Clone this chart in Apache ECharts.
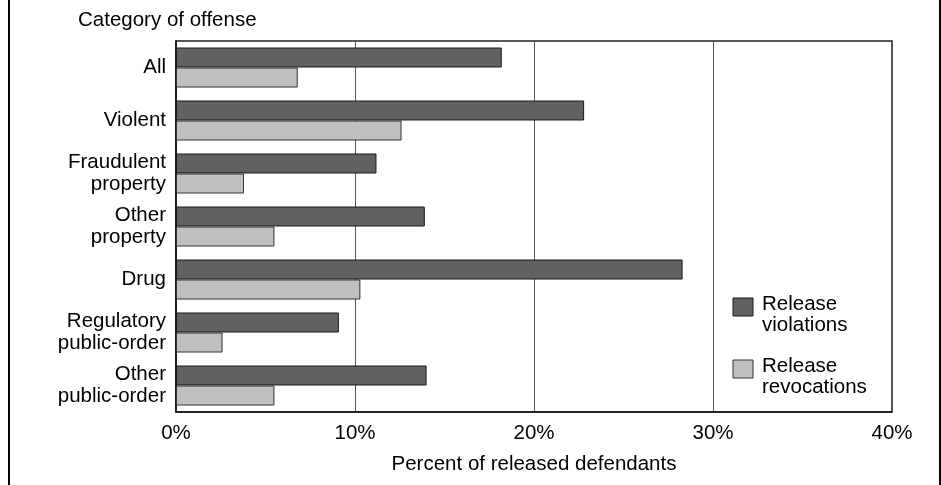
<!DOCTYPE html>
<html>
<head>
<meta charset="utf-8">
<script src="https://cdn.jsdelivr.net/npm/echarts@6/dist/echarts.min.js"></script>
<style>
html,body{margin:0;padding:0;background:#fff;}
#chart{width:941px;height:485px;}
</style>
</head>
<body>
<div id="chart"></div>
<script>
const categories = ["All", "Violent", "Fraudulent\nproperty", "Other\nproperty", "Drug", "Regulatory\npublic-order", "Other\npublic-order"];
const seriesNames = ["Release\nviolations", "Release\nrevocations"];
const violations = [18.2, 22.8, 11.2, 13.9, 28.3, 9.1, 14.0];
const revocations = [6.8, 12.6, 3.8, 5.5, 10.3, 2.6, 5.5];
const xTicks = [0, 10, 20, 30, 40];
const yTitle = "Category of offense";
const xTitle = "Percent of released defendants";

const FONT = "'Liberation Sans', Arial, Helvetica, sans-serif";
const FS = 20.5;
const COLORS = ['#616161', '#c0c0c0'];
const BORDERS = ['#1a1a1a', '#333'];
const chart = echarts.init(document.getElementById('chart'), null, {renderer: 'canvas'});

function legendItem(i, top) {
  return [
    {type: 'rect', shape: {x: 733, y: top, width: 20, height: 18},
     style: {fill: COLORS[i], stroke: BORDERS[i], lineWidth: 1}},
    {type: 'text', x: 762, y: top - 4.5,
     style: {text: seriesNames[i], font: FS + 'px ' + FONT, fill: '#000', lineHeight: 21, verticalAlign: 'top'}}
  ];
}

chart.setOption({
  animation: false,
  backgroundColor: '#fff',
  textStyle: {fontFamily: FONT},
  grid: {left: 176, right: 49, top: 41, bottom: 73, show: true, borderColor: '#222', borderWidth: 1.5, backgroundColor: 'transparent'},
  graphic: [
    {type: 'rect', shape: {x: 8, y: -5, width: 2, height: 500}, style: {fill: '#000'}},
    {type: 'rect', shape: {x: 939, y: -5, width: 2, height: 500}, style: {fill: '#000'}},
    {type: 'text', left: 78, top: 10, style: {text: yTitle, font: FS + 'px ' + FONT, fill: '#000'}}
  ].concat(legendItem(0, 298), legendItem(1, 360)),
  xAxis: {
    type: 'value',
    min: xTicks[0],
    max: xTicks[xTicks.length - 1],
    interval: xTicks[1] - xTicks[0],
    name: xTitle,
    nameLocation: 'middle',
    nameGap: 42,
    nameTextStyle: {fontFamily: FONT, fontSize: FS, color: '#000'},
    axisLine: {show: true, lineStyle: {color: '#111', width: 1.5}},
    axisTick: {show: false},
    axisLabel: {formatter: '{value}%', fontFamily: FONT, fontSize: FS, color: '#000', margin: 11},
    splitLine: {show: true, lineStyle: {color: '#555', width: 1}}
  },
  yAxis: {
    type: 'category',
    data: categories,
    inverse: true,
    axisLine: {show: true, lineStyle: {color: '#111', width: 1.5}},
    axisTick: {show: false},
    axisLabel: {fontFamily: FONT, fontSize: FS, color: '#000', margin: 10, lineHeight: 22, align: 'right'},
    splitLine: {show: false}
  },
  series: [
    {
      name: seriesNames[0], type: 'bar', data: violations,
      barWidth: 20, barGap: '0%',
      itemStyle: {color: COLORS[0], borderColor: BORDERS[0], borderWidth: 1}
    },
    {
      name: seriesNames[1], type: 'bar', data: revocations,
      barWidth: 20, barGap: '0%',
      itemStyle: {color: COLORS[1], borderColor: BORDERS[1], borderWidth: 1}
    }
  ]
});
</script>
</body>
</html>
